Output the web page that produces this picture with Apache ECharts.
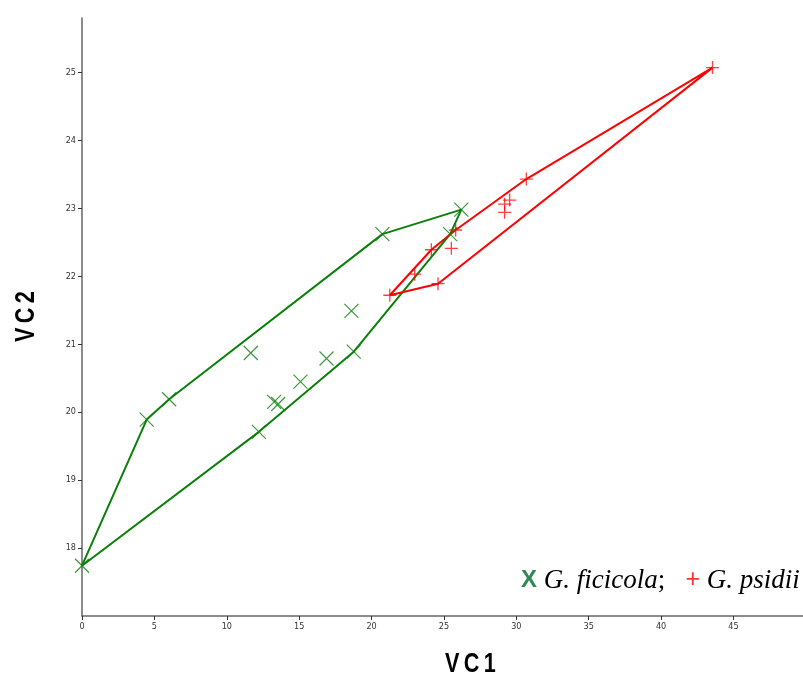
<!DOCTYPE html>
<html>
<head>
<meta charset="utf-8">
<script src="https://cdn.jsdelivr.net/npm/echarts@6/dist/echarts.min.js"></script>
<style>
html, body { margin: 0; background: #fff; }
#chart { width: 803px; height: 680px; }
</style>
</head>
<body>
<div id="chart"></div>
<script>
// G. ficicola (green x)
var ficicolaVC1 = [0, 4.47, 6.02, 11.66, 12.22, 13.27, 13.55, 15.09, 16.89, 18.77, 18.61, 20.75, 26.2, 25.43];
var ficicolaVC2 = [17.74, 19.89, 20.19, 20.87, 19.71, 20.15, 20.12, 20.45, 20.79, 20.89, 21.49, 22.62, 22.98, 22.62];
// G. psidii (red +)
var psidiiVC1 = [43.55, 30.69, 29.19, 29.54, 29.19, 25.81, 25.51, 24.13, 22.98, 24.59, 21.26];
var psidiiVC2 = [25.07, 23.43, 23.06, 23.12, 22.94, 22.68, 22.41, 22.39, 22.03, 21.89, 21.72];

var xTicks = [0, 5, 10, 15, 20, 25, 30, 35, 40, 45];
var yTicks = [18, 19, 20, 21, 22, 23, 24, 25];

function pairs(xs, ys) {
    return xs.map(function (x, i) { return [x, ys[i]]; });
}

// convex hull (monotone chain), closed back to the first vertex
function hull(pts) {
    var p = pts.slice().sort(function (a, b) { return a[0] - b[0] || a[1] - b[1]; });
    function cross(o, a, b) { return (a[0] - o[0]) * (b[1] - o[1]) - (a[1] - o[1]) * (b[0] - o[0]); }
    var lower = [], upper = [];
    p.forEach(function (q) {
        while (lower.length >= 2 && cross(lower[lower.length - 2], lower[lower.length - 1], q) <= 0) lower.pop();
        lower.push(q);
    });
    p.slice().reverse().forEach(function (q) {
        while (upper.length >= 2 && cross(upper[upper.length - 2], upper[upper.length - 1], q) <= 0) upper.pop();
        upper.push(q);
    });
    upper.pop(); lower.pop();
    var h = lower.concat(upper);
    h.push(h[0]);
    return h;
}

var ficicola = pairs(ficicolaVC1, ficicolaVC2);
var psidii = pairs(psidiiVC1, psidiiVC2);

var crossSym = 'path://M0,0L10,10M10,0L0,10';
var plusSym = 'path://M5,0L5,10M0,5L10,5';
var tickFont = '"Liberation Sans Narrow", "DejaVu Sans Condensed", sans-serif';
var nameFont = 'bold 27px "Liberation Sans", Arial, sans-serif';

var chart = echarts.init(document.getElementById('chart'));
chart.setOption({
    animation: false,
    grid: { left: 82, top: 18, right: 0, bottom: 64 },
    xAxis: {
        type: 'value',
        min: 0,
        max: 49.8,
        splitLine: { show: false },
        axisLine: { onZero: false, lineStyle: { color: '#666', width: 1.5 } },
        axisTick: { length: 4, lineStyle: { color: '#333' }, customValues: xTicks },
        axisLabel: { fontSize: 9, color: '#333', fontFamily: tickFont, margin: 6, customValues: xTicks }
    },
    yAxis: {
        type: 'value',
        min: 17,
        max: 25.8,
        splitLine: { show: false },
        axisLine: { onZero: false, lineStyle: { color: '#666', width: 1.5 } },
        axisTick: { length: 4, lineStyle: { color: '#333' }, customValues: yTicks },
        axisLabel: { fontSize: 9, color: '#333', fontFamily: tickFont, margin: 6, customValues: yTicks }
    },
    graphic: [
        {
            type: 'text', x: 445, y: 651, scaleX: 0.8,
            style: { text: 'V\u2009C\u20091', fill: '#000', font: nameFont, verticalAlign: 'top' }
        },
        {
            type: 'text', x: 13, y: 342, rotation: Math.PI / 2, scaleX: 0.8,
            style: { text: 'V\u2009C\u20092', fill: '#000', font: nameFont, verticalAlign: 'top' }
        },
        {
            type: 'text', x: 521, y: 567,
            style: {
                text: '{gx|X} {nm|G. ficicola};   {rp|+} {nm|G. psidii}',
                rich: {
                    gx: { fill: '#2e8b57', fontSize: 24, fontWeight: 'bold', fontFamily: 'Liberation Sans' },
                    rp: { fill: '#ff3333', fontSize: 25, fontFamily: 'Liberation Sans' },
                    nm: { fill: '#000', fontSize: 27, fontStyle: 'italic', fontFamily: 'Liberation Serif' }
                },
                fill: '#000', fontSize: 27, fontFamily: 'Liberation Serif'
            }
        }
    ],
    series: [
        {
            name: 'ficicola hull', type: 'line', data: hull(ficicola), symbol: 'none',
            lineStyle: { color: '#0a800a', width: 2 }, z: 2
        },
        {
            name: 'psidii hull', type: 'line', data: hull(psidii), symbol: 'none',
            lineStyle: { color: '#ff0000', width: 2 }, z: 2
        },
        {
            name: 'G. ficicola', type: 'scatter', data: ficicola, symbol: crossSym, symbolSize: 14,
            itemStyle: { color: 'transparent', borderColor: '#0a800a', borderWidth: 1.2 }, z: 3
        },
        {
            name: 'G. psidii', type: 'scatter', data: psidii, symbol: plusSym, symbolSize: 13,
            itemStyle: { color: 'transparent', borderColor: '#ff0000', borderWidth: 1.3, opacity: 0.75 }, z: 3
        }
    ]
});
</script>
</body>
</html>
